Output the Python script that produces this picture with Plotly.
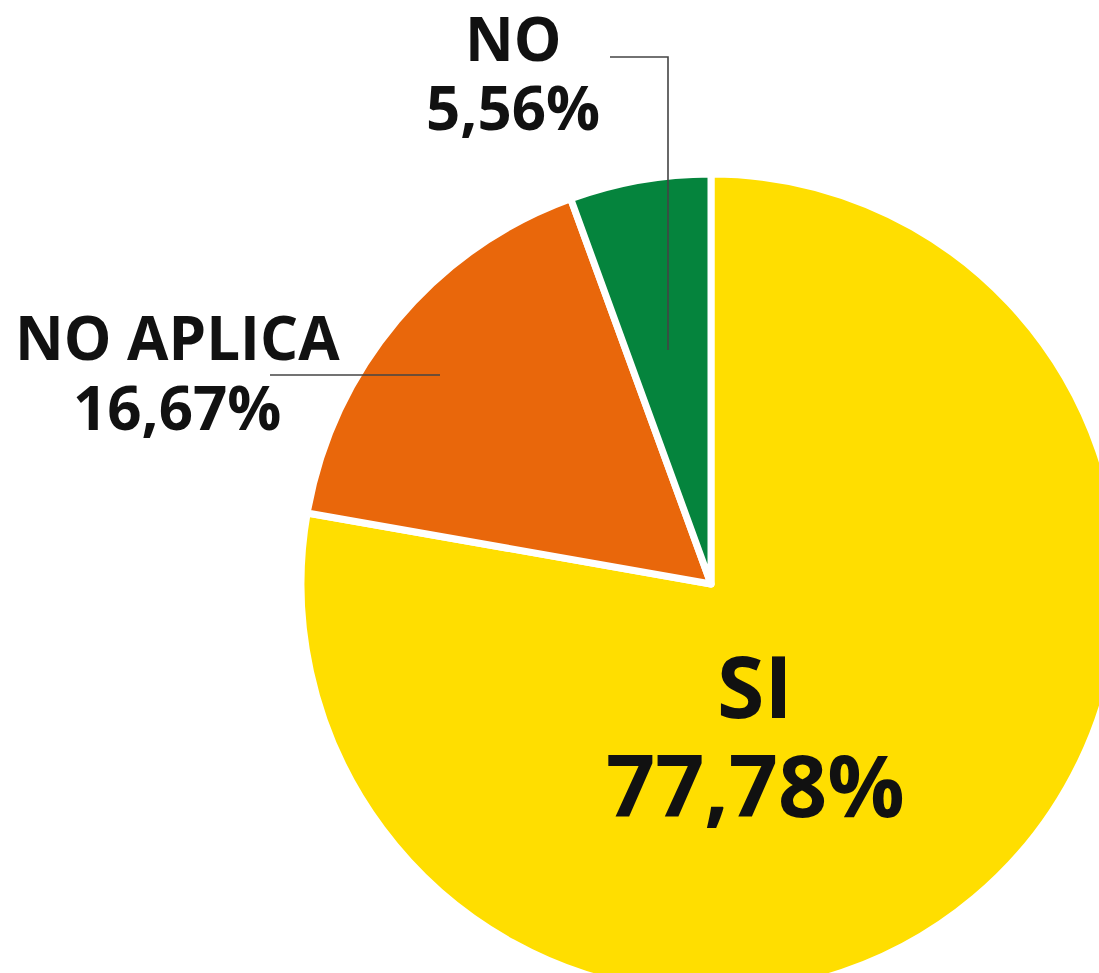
import plotly.graph_objects as go

# ---- data ----
labels = ["SI", "NO APLICA", "NO"]
values = [77.78, 16.67, 5.56]
colors = ["#FFDE00", "#E9670B", "#05843D"]

# ---- layout geometry (page px; body margin removed below) ----
W, H = 1600, 1400          # figure larger than the window so the pie is cropped like the reference
CX, CY, R = 711, 584, 410

def px(x):
    return x / W

def py(y):
    return 1 - y / H

fig = go.Figure(go.Pie(
    labels=labels,
    values=values,
    sort=False,
    direction="clockwise",
    rotation=0,
    marker=dict(colors=colors, line=dict(color="white", width=7)),
    textinfo="none",
    hoverinfo="label+percent",
    showlegend=False,
    domain=dict(x=[(CX - R) / W, (CX + R) / W], y=[1 - (CY + R) / H, 1 - (CY - R) / H]),
))

def fmt(v):
    return f"{v:.2f}".replace(".", ",") + "%"

FONT = "Open Sans"
# label placements (page px): (x, y of name, y of value, size)
place = {
    "SI": (755, 684, 783, 86),
    "NO APLICA": (177, 337, 407, 60),
    "NO": (513, 38, 107, 60),
}
annotations = []
for lab, val in zip(labels, values):
    x, y1, y2, s = place[lab]
    for txt, yy in ((lab, y1), (fmt(val), y2)):
        annotations.append(dict(
            x=px(x), y=py(yy), xref="paper", yref="paper",
            text=f"<b>{txt}</b>", showarrow=False,
            xanchor="center", yanchor="middle",
            font=dict(family=FONT, size=s, color="#111111"),
        ))

line_style = dict(color="#444444", width=1.6)
shapes = [
    dict(type="path", xref="paper", yref="paper",
         path=f"M {px(610)} {py(57)} L {px(668)} {py(57)} L {px(668)} {py(350)}",
         line=line_style),
    dict(type="line", xref="paper", yref="paper",
         x0=px(270), y0=py(375), x1=px(440), y1=py(375), line=line_style),
]

fig.update_layout(
    width=W, height=H,
    margin=dict(l=0, r=0, t=0, b=0),
    paper_bgcolor="white",
    plot_bgcolor="white",
    annotations=annotations,
    shapes=shapes,
)

fig.write_html("out.html", post_script="document.body.style.margin='0';")
